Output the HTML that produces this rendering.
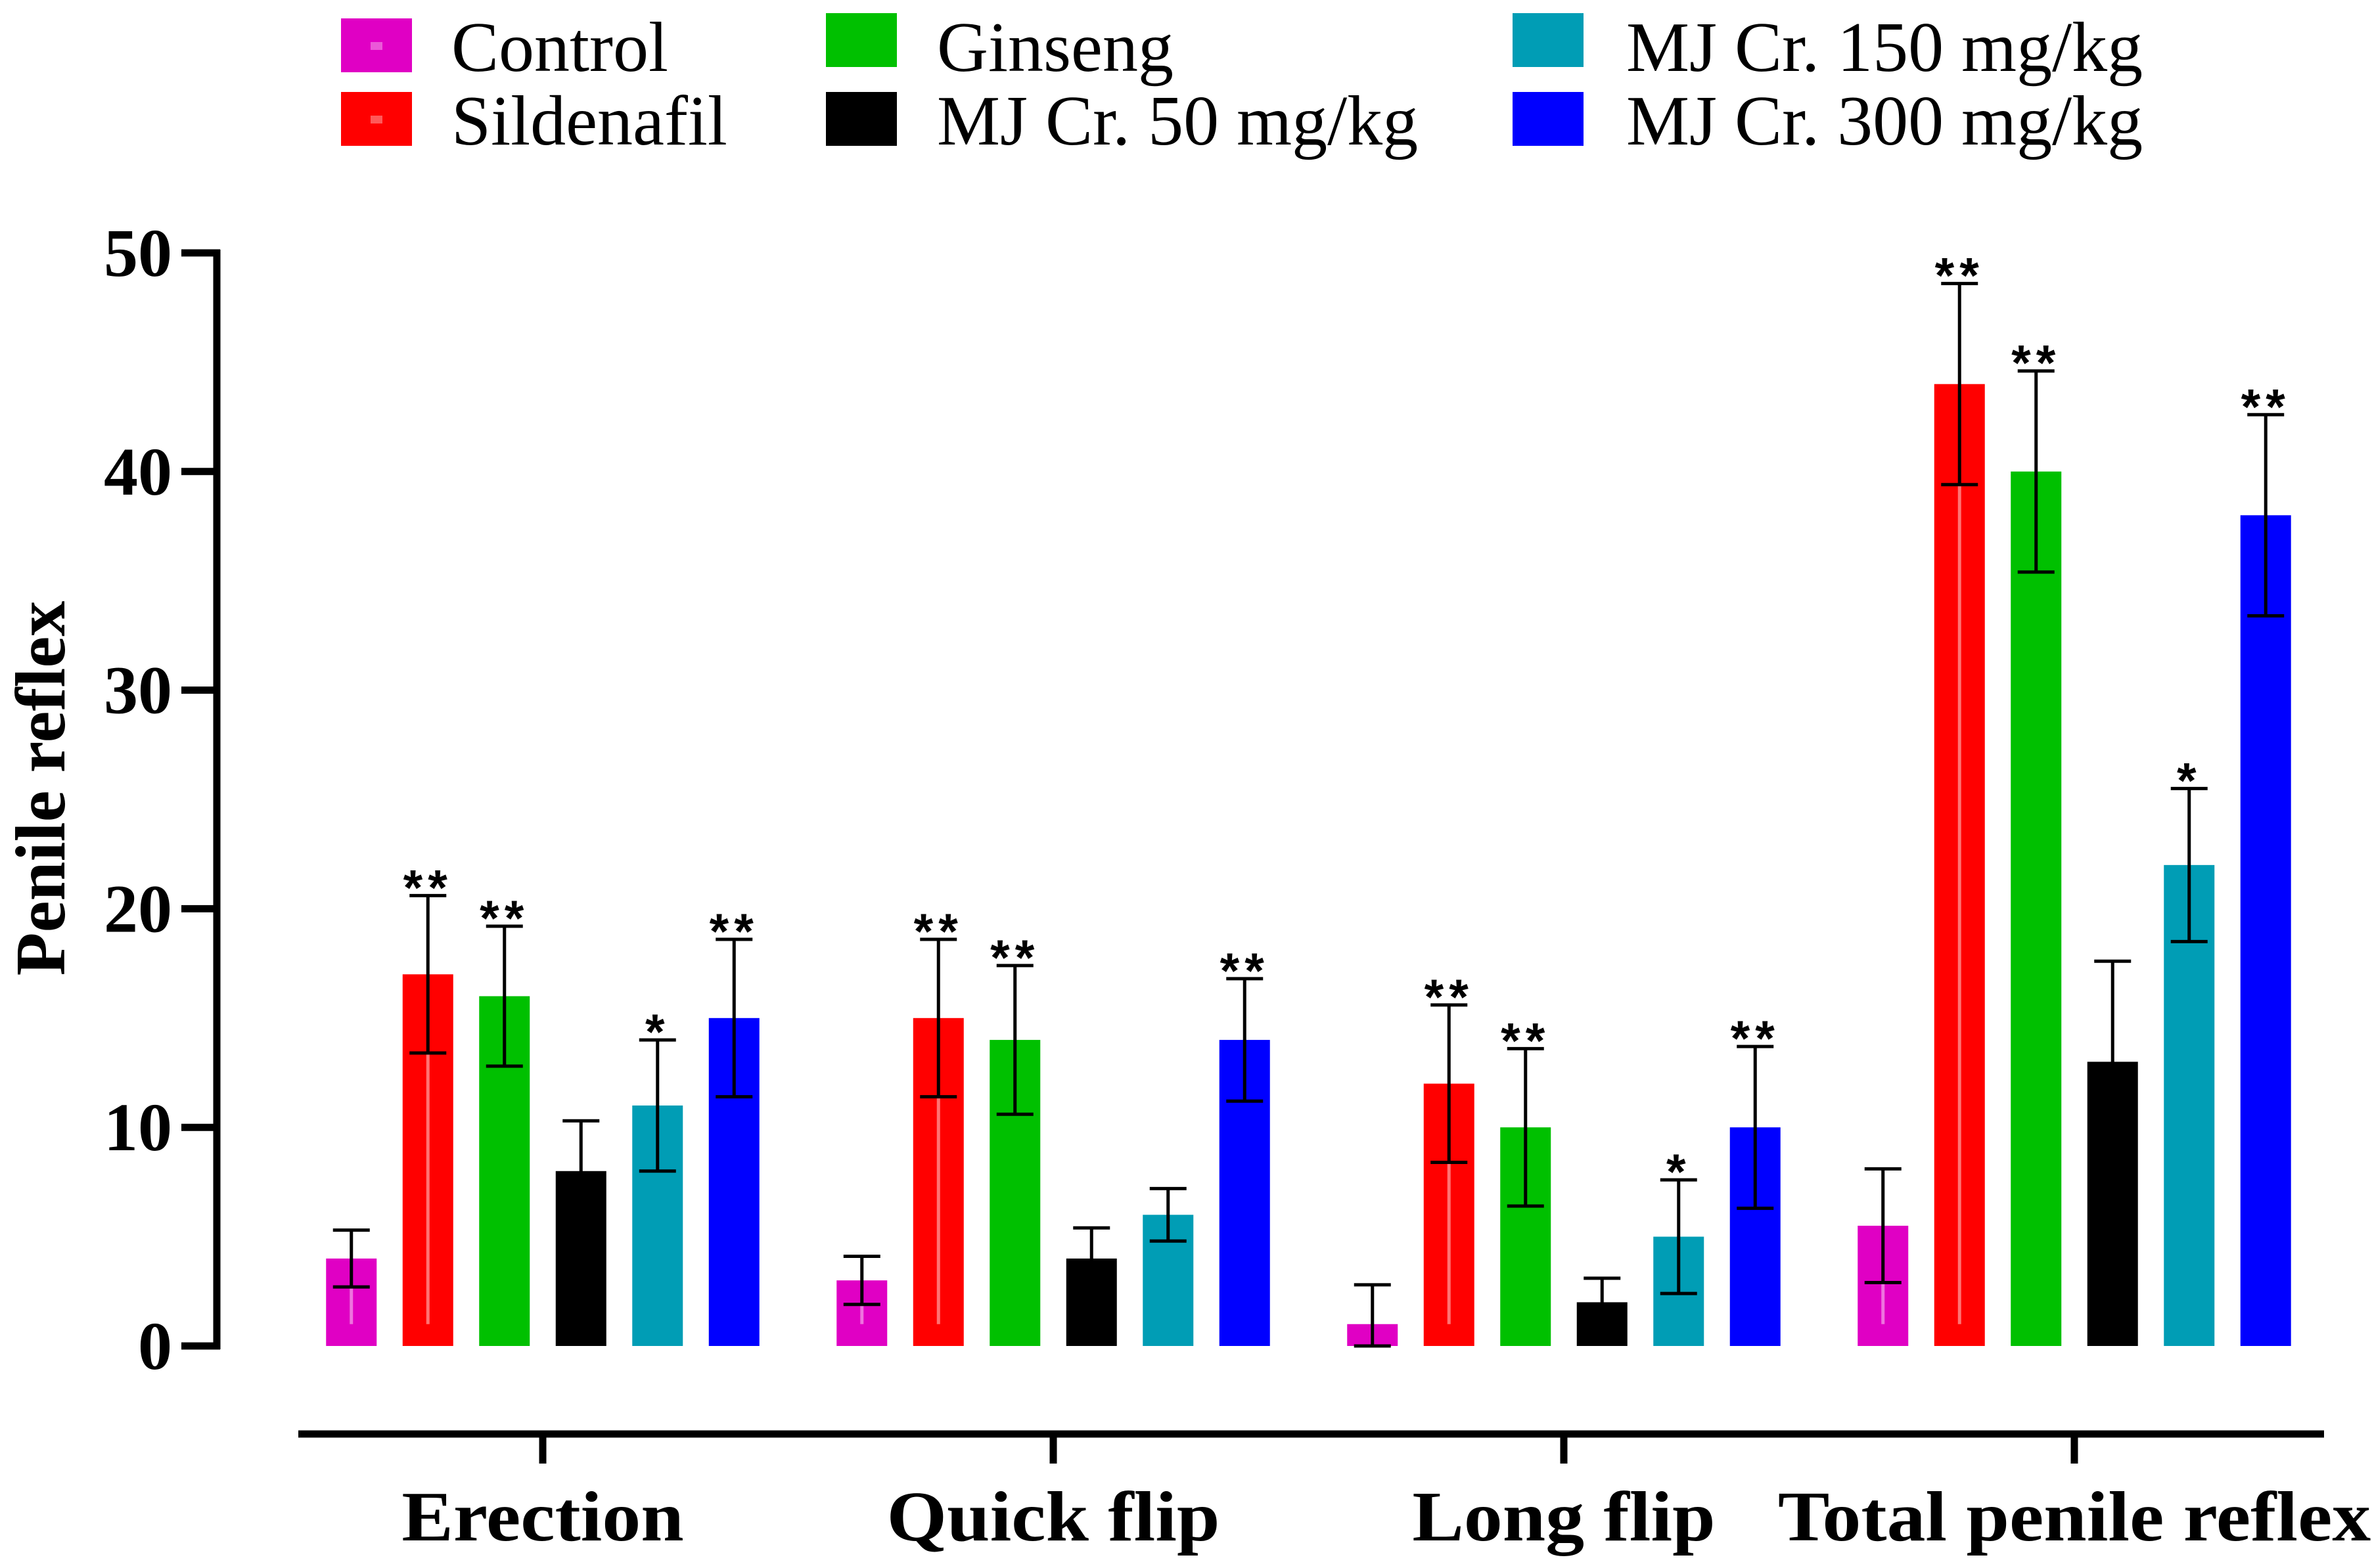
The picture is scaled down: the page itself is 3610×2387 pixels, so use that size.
<!DOCTYPE html>
<html><head><meta charset="utf-8"><style>
html,body{margin:0;padding:0;background:#fff;}
svg{display:block;}
</style></head><body>
<svg id="chart" width="3610" height="2387" viewBox="0 0 3610 2387" xmlns="http://www.w3.org/2000/svg" font-family="'Liberation Serif', serif">
<g id="legend"></g>
<g id="axes"></g>
<g id="bars"></g>
</svg>
<script>
const categories = ["Erection", "Quick flip", "Long flip", "Total penile reflex"];
const seriesNames = ["Control", "Sildenafil", "Ginseng", "MJ Cr. 50 mg/kg", "MJ Cr. 150 mg/kg", "MJ Cr. 300 mg/kg"];
const seriesColors = ["#e000c4", "#ff0000", "#00c000", "#000000", "#009db5", "#0000ff"];
const controlVals = [4, 3, 1, 5.5];
const sildenafilVals = [17, 15, 12, 44];
const ginsengVals = [16, 14, 10, 40];
const mj50Vals = [8, 4, 2, 13];
const mj150Vals = [11, 6, 5, 22];
const mj300Vals = [15, 14, 10, 38];
const controlErr = [1.3, 1.1, 1.8, 2.6];
const sildenafilErr = [3.6, 3.6, 3.6, 4.6];
const ginsengErr = [3.2, 3.4, 3.6, 4.6];
const mj50Err = [2.3, 1.4, 1.1, 4.6];
const mj150Err = [3.0, 1.2, 2.6, 3.5];
const mj300Err = [3.6, 2.8, 3.7, 4.6];
const controlSig = ["", "", "", ""];
const sildenafilSig = ["**", "**", "**", "**"];
const ginsengSig = ["**", "**", "**", "**"];
const mj50Sig = ["", "", "", ""];
const mj150Sig = ["*", "", "*", "*"];
const mj300Sig = ["**", "**", "**", "**"];
const yTicks = [0, 10, 20, 30, 40, 50];

const values = [controlVals, sildenafilVals, ginsengVals, mj50Vals, mj150Vals, mj300Vals];
const errs = [controlErr, sildenafilErr, ginsengErr, mj50Err, mj150Err, mj300Err];
const sigs = [controlSig, sildenafilSig, ginsengSig, mj50Sig, mj150Sig, mj300Sig];

const NS = "http://www.w3.org/2000/svg";
const y0 = 2049, yTop = 385, yMax = 50;
function yScale(v){ return y0 - (v / yMax) * (y0 - yTop); }
const groupStart = 826, groupStep = 777, barStep = 116.5, barW = 77;
function xGroup(i){ return groupStart + i * groupStep; }
function xBar(i, s){ return xGroup(i) + (s - 2.5) * barStep; }

function mk(tag, attrs, parent){
  const e = document.createElementNS(NS, tag);
  for (const k in attrs) e.setAttribute(k, attrs[k]);
  parent.appendChild(e);
  return e;
}
const axes = document.getElementById('axes');
const bars = document.getElementById('bars');
const legend = document.getElementById('legend');

let el = mk('line', {x1:330, y1:yTop-5, x2:330, y2:y0+5, stroke:'#000', 'stroke-width':11}, axes);


yTicks.forEach(t => {
  const y = yScale(t);
  let tk = mk('line', {x1:276, y1:y, x2:335, y2:y, stroke:'#000', 'stroke-width':11}, axes);
  
  
  let lb = mk('text', {x:262, y:y+35, 'text-anchor':'end', 'font-size':104, 'font-weight':'bold'}, axes);
  lb.textContent = t;
  
  
});
let yt = mk('text', {x:0, y:0, transform:'translate(98,1200) rotate(-90)', 'text-anchor':'middle', 'font-size':108, 'font-weight':'bold'}, axes);
yt.textContent = 'Penile reflex';



let xa = mk('line', {x1:454, y1:2183, x2:3537, y2:2183, stroke:'#000', 'stroke-width':11}, axes);


categories.forEach((c, i) => {
  const x = xGroup(i);
  let tk = mk('line', {x1:x, y1:2183, x2:x, y2:2228, stroke:'#000', 'stroke-width':11}, axes);
  
  
  let lb = mk('text', {x:0, y:0, transform:'translate(' + x + ',2345) scale(1.09,1)', 'text-anchor':'middle', 'font-size':108, 'font-weight':'bold'}, axes);
  lb.textContent = c;
  
  
});

values.forEach((arr, s) => {
  arr.forEach((v, i) => {
    const xc = xBar(i, s);
    const yv = yScale(v);
    let r = mk('rect', {x:xc-barW/2, y:yv, width:barW, height:y0-yv, fill:seriesColors[s]}, bars);
    
    
    const e = errs[s][i];
    const yHi = yScale(v + e), yLo = yScale(Math.max(0, v - e));
    if (s === 0 || s === 1) {
      let pl = mk('line', {x1:xc, y1:yLo, x2:xc, y2:yScale(1), stroke:'rgba(255,255,255,0.45)', 'stroke-width':5}, bars);
      
      
    }
    let st = mk('line', {x1:xc, y1:yHi, x2:xc, y2:yLo, stroke:'#000', 'stroke-width':5}, bars);
    
    
    let c1 = mk('line', {x1:xc-28, y1:yHi, x2:xc+28, y2:yHi, stroke:'#000', 'stroke-width':5}, bars);
    
    
    let c2 = mk('line', {x1:xc-28, y1:yLo, x2:xc+28, y2:yLo, stroke:'#000', 'stroke-width':5}, bars);
    
    
    if (sigs[s][i]) {
      let sg = mk('text', {x:xc, y:yHi+14, 'text-anchor':'middle', 'font-size':76, 'font-weight':'bold', 'letter-spacing':8, 'font-family':"'Liberation Sans', sans-serif"}, bars);
      sg.textContent = sigs[s][i];
      
      
    }
  });
});

const legX = [519, 1257, 2302];
const legTextX = [687, 1426, 2475];
const legRow = [28, 140];
const legOrder = [[0,0,0],[1,0,1],[2,1,0],[3,1,1],[4,2,0],[5,2,1]];
legOrder.forEach(o => {
  const s = o[0], col = o[1], row = o[2];
  const yTopSq = legRow[row] - (col > 0 && row === 0 ? 8 : 0);
  let sq = mk('rect', {x:legX[col], y:yTopSq, width:108, height:82, fill:seriesColors[s]}, legend);
  
  
  if (s < 2) {
    let d = mk('rect', {x:legX[col]+45, y:yTopSq+36, width:18, height:12, fill:'rgba(255,255,255,0.35)'}, legend);
    
    
  }
  let t = mk('text', {x:legTextX[col], y:legRow[row] + 80, 'font-size':108}, legend);
  t.textContent = seriesNames[s];
  
  
});
</script>
</body></html>
